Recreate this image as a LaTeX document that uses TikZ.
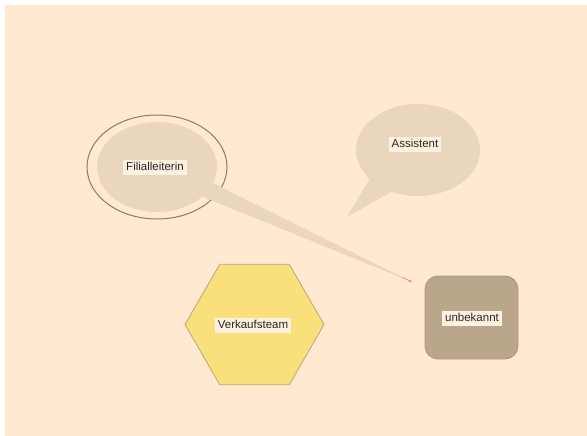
\documentclass[tikz,border=0pt]{standalone}
\usepackage{fontspec}
\setmainfont{Liberation Sans}
\usetikzlibrary{positioning,calc,shapes.geometric,shapes.callouts,arrows.meta}

\definecolor{paper}{HTML}{FFEAD1}
\definecolor{bubble}{HTML}{E9D6BD}
\definecolor{rim}{HTML}{8C7A63}
\definecolor{honey}{HTML}{F9E07B}
\definecolor{honeyline}{HTML}{BBA47F}
\definecolor{khaki}{HTML}{B9A68B}
\definecolor{khakiline}{HTML}{A8957A}
\definecolor{tagfill}{HTML}{FFF1DF}

\begin{document}
\begin{tikzpicture}[
  x=1pt, y=-1pt,
  font=\fontsize{11.5}{13}\selectfont,
  tag node/.style={
    fill=tagfill,
    inner xsep=3pt,
    inner ysep=1.5pt,
    text height=9pt,
    text depth=2.5pt,
    text=black!85,
  },
  bubble node/.style={
    ellipse callout,
    fill=bubble,
    inner sep=0pt,
    minimum width=#1,
  },
  ring node/.style={
    ellipse,
    draw=rim,
    line width=1pt,
    inner sep=0pt,
  },
  team node/.style={
    regular polygon,
    regular polygon sides=6,
    fill=honey,
    draw=honeyline,
    line width=.8pt,
    inner sep=0pt,
    minimum size=139pt,
  },
  open node/.style={
    rounded corners=13pt,
    fill=khaki,
    draw=khakiline,
    line width=.8pt,
    inner sep=0pt,
    minimum width=93pt,
    minimum height=83pt,
  },
  ]
  \useasboundingbox (0,0) rectangle (587,436);
  \fill[paper] (5,5) rectangle (587,436);

  \coordinate (lead-tip) at (412,282);
  \coordinate (lead-from) at (402,277);
  \coordinate (assist-tip) at (347,217);

  \node[ring node,minimum width=140pt,minimum height=104pt] (lead-ring) at (157,167) {};
  \node[bubble node=120pt,minimum height=90pt,callout pointer arc=20,
        callout absolute pointer={(lead-tip)}] (lead) at (157,167) {};
  \node[bubble node=124pt,minimum height=92pt,callout pointer arc=26,
        callout absolute pointer={(assist-tip)}] (assist) at (418,150) {};
  \node[team node] (team) at (254.5,324.5) {};
  \node[open node] (unknown) at (471.5,317.5) {};

  \draw[red!55,line width=.6pt,-{Latex[length=3pt,width=2.5pt]}] (lead-from) -- (lead-tip);

  \node[tag node] (lead-tag) at (155,167.5) {Filialleiterin};
  \node[tag node] (assist-tag) at (415,144.5) {Assistent};
  \node[tag node] (team-tag) at (253,325.5) {Verkaufsteam};
  \node[tag node] (unknown-tag) at (472,318.5) {unbekannt};
\end{tikzpicture}
\end{document}
